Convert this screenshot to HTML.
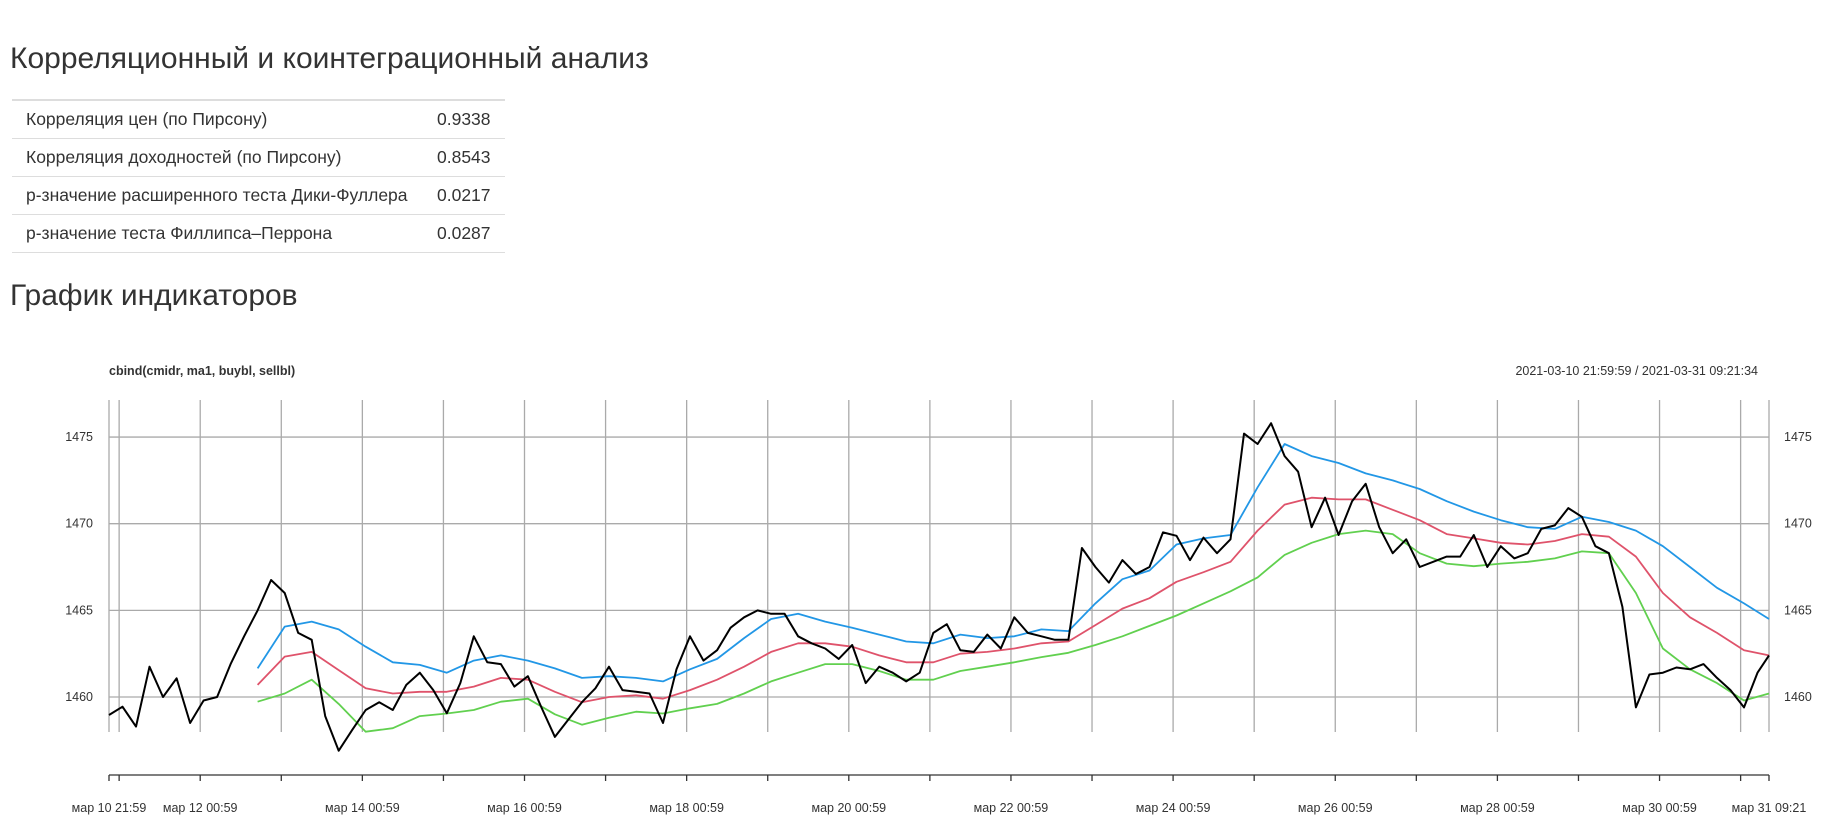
<!DOCTYPE html>
<html><head><meta charset="utf-8">
<style>
body{margin:0;background:#fff;width:1828px;height:816px;overflow:hidden;font-family:"Liberation Sans",Arial,sans-serif;color:#333;position:relative}
h1,h2{position:absolute;left:10px;margin:0;font-weight:400;font-size:30px;line-height:30px;color:#333}
table{position:absolute;left:12px;top:99px;border-collapse:collapse;font-size:17.5px;color:#333;table-layout:fixed;width:493px}
td{height:38px;padding:0 0 0 14px;border-top:1px solid #ddd;vertical-align:middle;white-space:nowrap;box-sizing:border-box}
td.l{width:410px}
td.v{padding-left:15px;width:83px}
tr:first-child td{border-top:2px solid #ddd}
tr:last-child td{border-bottom:1px solid #ddd}
svg{position:absolute;left:0;top:0}
</style></head><body>
<h1 style="top:44px">Корреляционный и коинтеграционный анализ</h1>
<table>
<tr><td class="l">Корреляция цен (по Пирсону)</td><td class="v">0.9338</td></tr>
<tr><td class="l">Корреляция доходностей (по Пирсону)</td><td class="v">0.8543</td></tr>
<tr><td class="l">p-значение расширенного теста Дики-Фуллера</td><td class="v">0.0217</td></tr>
<tr><td class="l">p-значение теста Филлипса–Перрона</td><td class="v">0.0287</td></tr>
</table>
<h2 style="top:281px">График индикаторов</h2>
<svg id="chart" width="1828" height="816" xmlns="http://www.w3.org/2000/svg"></svg>
<script>
const priceStep = 4; // hours between black samples
const priceValues = [1458.96,1459.44,1458.29,1461.75,1460.0,1461.08,1458.5,1459.8,1460.0,1461.9,1463.5,1465.0,1466.75,1466.0,1463.7,1463.3,1458.9,1456.9,1458.1,1459.25,1459.7,1459.25,1460.7,1461.4,1460.4,1459.06,1460.8,1463.5,1462.0,1461.9,1460.6,1461.2,1459.4,1457.7,1458.7,1459.7,1460.5,1461.75,1460.4,1460.3,1460.2,1458.5,1461.6,1463.5,1462.1,1462.7,1464.0,1464.6,1465.0,1464.8,1464.8,1463.5,1463.1,1462.8,1462.2,1463.0,1460.8,1461.75,1461.4,1460.9,1461.4,1463.7,1464.2,1462.7,1462.6,1463.6,1462.8,1464.6,1463.7,1463.5,1463.3,1463.3,1468.6,1467.5,1466.6,1467.9,1467.1,1467.5,1469.5,1469.3,1467.9,1469.2,1468.3,1469.1,1475.2,1474.6,1475.8,1473.9,1473.0,1469.8,1471.5,1469.35,1471.3,1472.3,1469.8,1468.3,1469.1,1467.5,1467.8,1468.1,1468.1,1469.35,1467.5,1468.7,1468.0,1468.3,1469.7,1469.9,1470.9,1470.4,1468.7,1468.3,1465.2,1459.4,1461.3,1461.4,1461.7,1461.6,1461.9,1461.1,1460.4,1459.4,1461.4,1462.4];
const maStart = 44, maStep = 8;
const blueValues = [1461.65,1464.06,1464.35,1463.9,1462.9,1462.0,1461.85,1461.4,1462.1,1462.4,1462.1,1461.65,1461.1,1461.2,1461.1,1460.9,1461.6,1462.2,1463.4,1464.5,1464.8,1464.35,1464.0,1463.6,1463.2,1463.1,1463.6,1463.4,1463.5,1463.9,1463.8,1465.4,1466.8,1467.3,1468.8,1469.15,1469.35,1472.1,1474.6,1473.9,1473.5,1472.9,1472.5,1472.0,1471.3,1470.7,1470.2,1469.8,1469.7,1470.4,1470.1,1469.6,1468.7,1467.5,1466.3,1465.4,1464.5];
const redValues = [1460.7,1462.33,1462.6,1461.55,1460.5,1460.2,1460.3,1460.3,1460.6,1461.1,1461.0,1460.3,1459.7,1460.0,1460.1,1459.9,1460.4,1461.0,1461.75,1462.6,1463.1,1463.1,1462.9,1462.4,1462.0,1462.0,1462.5,1462.6,1462.8,1463.1,1463.2,1464.15,1465.1,1465.7,1466.65,1467.2,1467.8,1469.6,1471.1,1471.5,1471.4,1471.4,1470.8,1470.2,1469.4,1469.15,1468.9,1468.8,1469.0,1469.4,1469.25,1468.1,1466.0,1464.6,1463.7,1462.7,1462.4];
const greenValues = [1459.73,1460.2,1461.0,1459.6,1458.0,1458.2,1458.9,1459.05,1459.25,1459.73,1459.9,1459.0,1458.4,1458.8,1459.15,1459.05,1459.35,1459.6,1460.2,1460.9,1461.4,1461.9,1461.9,1461.5,1461.0,1461.0,1461.5,1461.75,1462.0,1462.3,1462.55,1463.0,1463.5,1464.1,1464.7,1465.4,1466.1,1466.9,1468.2,1468.9,1469.4,1469.6,1469.4,1468.3,1467.7,1467.55,1467.7,1467.8,1468.0,1468.4,1468.3,1466.0,1462.8,1461.6,1460.8,1459.8,1460.2];
const totalHours = 491.4;
const yTicks = [1460,1465,1470,1475];
const xLabels = ["мар 10 21:59","мар 12 00:59","мар 14 00:59","мар 16 00:59","мар 18 00:59","мар 20 00:59","мар 22 00:59","мар 24 00:59","мар 26 00:59","мар 28 00:59","мар 30 00:59","мар 31 09:21"];

const X0=109,X1=1769,Y1460=697,PXU=17.33;
const xs=h=>X0+(X1-X0)*h/totalHours;
const ys=v=>Y1460-(v-1460)*PXU;
const svg=document.getElementById('chart');
const NS='http://www.w3.org/2000/svg';
function mk(t,a){const e=document.createElementNS(NS,t);for(const k in a)e.setAttribute(k,a[k]);svg.appendChild(e);return e;}
const dayHours=[0];for(let h=3;h<totalHours;h+=24)dayHours.push(h);dayHours.push(totalHours);
dayHours.forEach(h=>{const g=mk('line',{x1:xs(h),x2:xs(h),y1:400,y2:732,stroke:'#aaa','stroke-width':1.3});


const t=mk('line',{x1:xs(h),x2:xs(h),y1:775,y2:781,stroke:'#333','stroke-width':1.3});

});
yTicks.forEach(v=>{const g=mk('line',{x1:X0,x2:X1,y1:ys(v),y2:ys(v),stroke:'#aaa','stroke-width':1.3});


const l=mk('text',{x:93,y:ys(v)+4,'text-anchor':'end','font-size':12.5,fill:'#333'});l.textContent=v;


const r=mk('text',{x:1784,y:ys(v)+4,'font-size':12.5,fill:'#333'});r.textContent=v;

});
const ax=mk('line',{x1:X0,x2:X1,y1:775,y2:775,stroke:'#333','stroke-width':1.3});


const labelHours=[0];for(let h=27;h<totalHours-24;h+=48)labelHours.push(h);labelHours.push(totalHours);
labelHours.forEach((h,i)=>{const t=mk('text',{x:xs(h),y:812,'text-anchor':'middle','font-size':12.5,fill:'#333'});t.textContent=xLabels[i];

});
function series(vals,start,step,color,w,name){
 const pts=vals.map((v,i)=>{const h=Math.min(start+i*step,totalHours);return xs(h).toFixed(1)+','+ys(v).toFixed(1);}).join(' ');
 const p=mk('polyline',{points:pts,fill:'none',stroke:color,'stroke-width':w,'stroke-linejoin':'round'});
 
 
}
series(greenValues,maStart,maStep,'#61D04F',1.8,'sellbl-line');
series(redValues,maStart,maStep,'#DF536B',1.8,'ma1-line');
series(blueValues,maStart,maStep,'#2297E6',1.8,'buybl-line');
series(priceValues,0,priceStep,'#000',2,'cmidr-line');
const ti=mk('text',{x:109,y:375,'font-size':12.5,'font-weight':'bold',fill:'#333'});ti.textContent='cbind(cmidr, ma1, buybl, sellbl)';


const dr=mk('text',{x:1758,y:375,'text-anchor':'end','font-size':12.5,fill:'#333'});dr.textContent='2021-03-10 21:59:59 / 2021-03-31 09:21:34';


</script>
</body></html>
